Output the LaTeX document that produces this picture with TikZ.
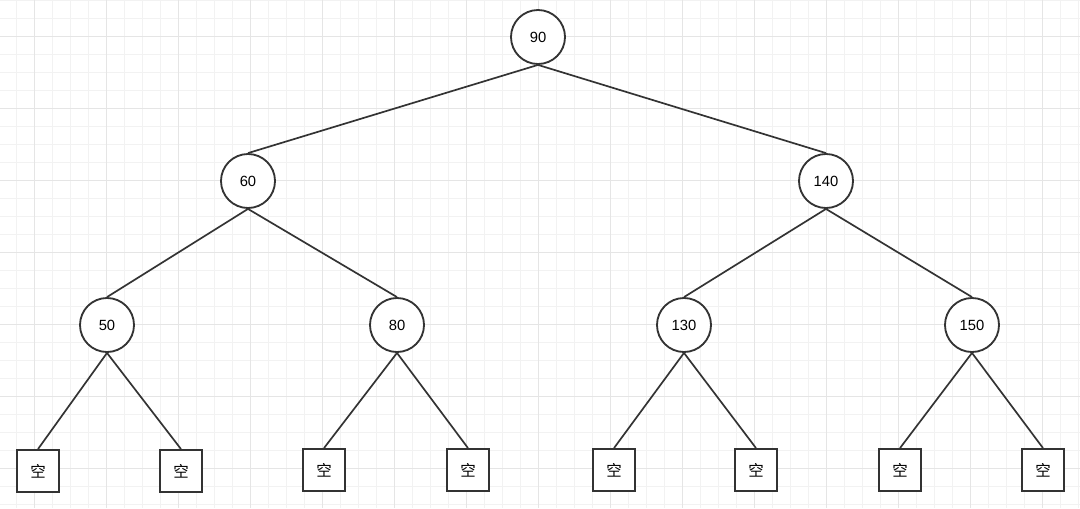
\documentclass[tikz,border=0pt]{standalone}
\usepackage{fontspec}
\setmainfont{Liberation Sans}
\newfontfamily\cjk{Noto Sans CJK SC}
\usepackage{tikz}
\usetikzlibrary{positioning}

\begin{document}
\begin{tikzpicture}[
  x=0.025cm, y=-0.025cm,
  keynode/.style={draw=black!80, line width=1.3pt, circle, fill=white,
    minimum size=1.35cm, inner sep=0pt, font=\fontsize{10.5}{12}\selectfont},
  leafnode/.style={draw=black!80, line width=1.3pt, rectangle, fill=white,
    minimum size=1.05cm, inner sep=0pt, font=\cjk\fontsize{11}{12}\selectfont},
  link/.style={draw=black!80, line width=1.2pt}
]
  % background and grid
  \fill[white] (0,0) rectangle (1080,508);
  \useasboundingbox (0,0) rectangle (1080,508);
  \foreach \x in {16,34,...,1078} \draw[black!5, line width=0.6pt] (\x,0) -- (\x,508);
  \foreach \y in {0,18,...,506} \draw[black!5, line width=0.6pt] (0,\y) -- (1080,\y);
  \foreach \x in {34,106,...,1078} \draw[black!10, line width=0.7pt] (\x,0) -- (\x,508);
  \foreach \y in {36,108,...,506} \draw[black!10, line width=0.7pt] (0,\y) -- (1080,\y);

  % keys
  \node[keynode] (n90) at (538,37) {90};
  \node[keynode] (n60) at (248,181) {60};
  \node[keynode] (n140) at (826,181) {140};
  \node[keynode] (n50) at (107,325) {50};
  \node[keynode] (n80) at (397,325) {80};
  \node[keynode] (n130) at (684,325) {130};
  \node[keynode] (n150) at (972,325) {150};

  % empty leaves
  \node[leafnode] (e1) at (38,471) {空};
  \node[leafnode] (e2) at (181,471) {空};
  \node[leafnode] (e3) at (324,470) {空};
  \node[leafnode] (e4) at (468,470) {空};
  \node[leafnode] (e5) at (614,470) {空};
  \node[leafnode] (e6) at (756,470) {空};
  \node[leafnode] (e7) at (900,470) {空};
  \node[leafnode] (e8) at (1043,470) {空};

  \draw[link] (n90.south) -- (n60.north);
  \draw[link] (n90.south) -- (n140.north);
  \draw[link] (n60.south) -- (n50.north);
  \draw[link] (n60.south) -- (n80.north);
  \draw[link] (n140.south) -- (n130.north);
  \draw[link] (n140.south) -- (n150.north);
  \draw[link] (n50.south) -- (e1.north);
  \draw[link] (n50.south) -- (e2.north);
  \draw[link] (n80.south) -- (e3.north);
  \draw[link] (n80.south) -- (e4.north);
  \draw[link] (n130.south) -- (e5.north);
  \draw[link] (n130.south) -- (e6.north);
  \draw[link] (n150.south) -- (e7.north);
  \draw[link] (n150.south) -- (e8.north);
\end{tikzpicture}
\end{document}
